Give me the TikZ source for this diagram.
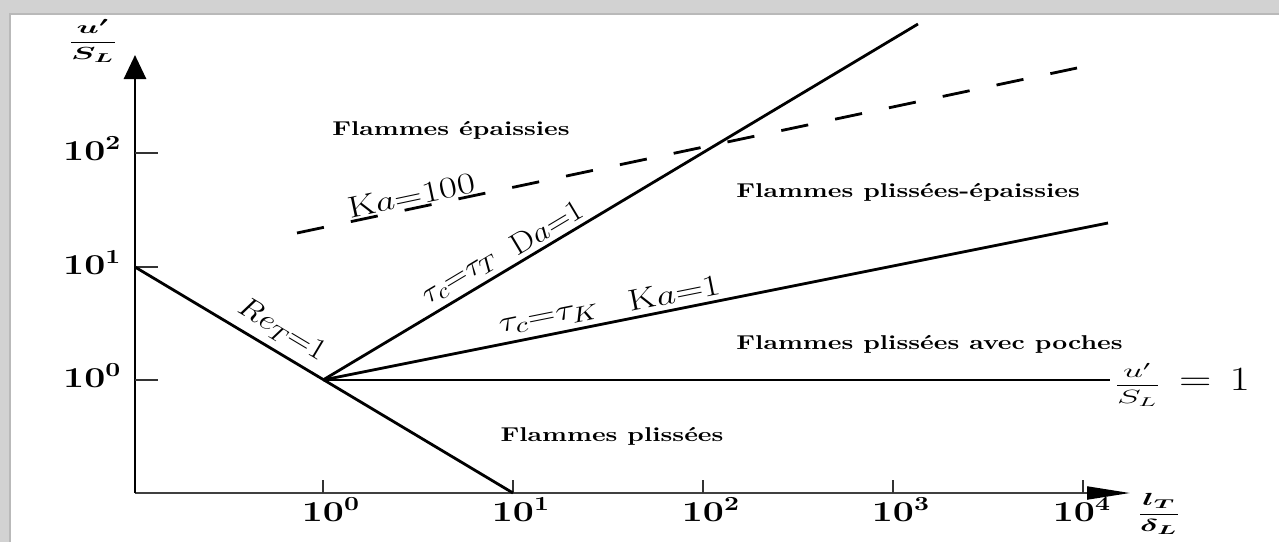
\documentclass[tikz,border=0pt]{standalone}
\usepackage{amsmath}
\usepackage{graphicx}
\usetikzlibrary{arrows.meta}
\newcommand\sx[1]{\scalebox{1.3}[1]{#1}}
\newcommand\sy[1]{\scalebox{1.12}[1]{#1}}
\newcommand\fr[1]{\scalebox{1.5}[0.8]{#1}}
\tikzset{
  mainline/.style={line width=1.4pt, black},
  dashline/.style={line width=1.4pt, black, dash pattern=on 13.75pt off 13.75pt},
  yaxis/.style={line width=1.4pt, black},
  xaxis/.style={line width=1pt, black!75},
  tickmark/.style={line width=0.9pt, black!80},
  ticklab/.style={font=\fontsize{14}{16}\selectfont\boldmath, inner sep=0pt},
  region/.style={font=\bfseries, inner sep=0pt},
  mlab/.style={font=\fontsize{15}{17}\selectfont, inner sep=2.5pt},
}
\begin{document}
\begin{tikzpicture}[x=0.5pt,y=-0.5pt]
\useasboundingbox (0,0) rectangle (1279,542);
\fill[gray!35] (0,0) rectangle (1279,542);
\fill[white] (10,14) rectangle (1279,542);
\draw[gray!55, line width=0.6pt] (10,542) -- (10,14) -- (1279,14);
% coordinates
\coordinate (O) at (135,493);
\coordinate (ytip) at (135,55);
\coordinate (xtip) at (1130,493);
\coordinate (P) at (323,380);
\coordinate (ReA) at (135,267);
\coordinate (ReB) at (513,493);
\coordinate (DaB) at (918,24);
\coordinate (KaB) at (1108,223);
\coordinate (HB) at (1110,380);
\coordinate (DA) at (297,233);
\coordinate (DB) at (1077,68);
% axes
\draw[xaxis, -{Triangle[length=21.5pt,width=6.5pt,color=black,fill=black]}] (O) -- (xtip);
\draw[yaxis, -{Triangle[length=12pt,width=11pt]}] (O) -- (ytip);
% ticks
\foreach \yy in {153,267,380} \draw[tickmark] (135,\yy) -- (158,\yy);
\foreach \xx in {323,513,703,893,1083} \draw[tickmark] (\xx,493) -- (\xx,480);
% tick labels
\node[ticklab, anchor=base east] (y2) at (122,160) {\sx{$10^{2}$}};
\node[ticklab, anchor=base east] (y1) at (122,274) {\sx{$10^{1}$}};
\node[ticklab, anchor=base east] (y0) at (122,387) {\sx{$10^{0}$}};
\node[ticklab, anchor=base] (x0) at (323,521) {\sx{$10$}\rlap{\sx{$^{0}$}}};
\node[ticklab, anchor=base] (x1) at (513,521) {\sx{$10$}\rlap{\sx{$^{1}$}}};
\node[ticklab, anchor=base] (x2) at (703,521) {\sx{$10$}\rlap{\sx{$^{2}$}}};
\node[ticklab, anchor=base] (x3) at (893,521) {\sx{$10$}\rlap{\sx{$^{3}$}}};
\node[ticklab, anchor=base] (x4) at (1074,521) {\sx{$10$}\rlap{\sx{$^{4}$}}};
% axis labels
\node[inner sep=0pt] (ylab) at (93,41) {\fr{\fontsize{11}{13}\selectfont\boldmath$\dfrac{u'}{S_L}$}};
\node[inner sep=0pt] (xlab) at (1159,514) {\fr{\fontsize{11}{13}\selectfont\boldmath$\dfrac{l_T}{\delta_L}$}};
% lines
\draw[mainline] (ReA) -- (ReB) node[pos=0.36, sloped, above, mlab, inner sep=3.5pt] (re) {\sy{$Re_T$=1}};
\draw[mainline] (P) -- (DaB)
  node[pos=0.245, sloped, above, mlab] (tt) {\sy{$\tau_c$=$\tau_T$}}
  node[pos=0.39, sloped, above, mlab] (da) {\sy{D$a$=1}};
\draw[mainline] (P) -- (KaB)
  node[pos=0.292, sloped, above, mlab] (tk) {\sx{$\tau_c$=$\tau_K$}}
  node[pos=0.452, sloped, above, mlab] (ka) {\sx{K$a$=1}};
\draw[mainline] (P) -- (HB);
\node[anchor=west, inner sep=0pt] (ul) at (1113,385) {\fr{\fontsize{12}{14}\selectfont$\dfrac{u'}{S_L}$}\hspace{9pt}\sx{\fontsize{17}{19}\selectfont$=$\hspace{7pt}1}};
\draw[dashline] (DA) -- (DB) node[pos=0.15, sloped, above, mlab, inner sep=0.5pt] (k100) {\sx{K$a$=100}};
% regions
\node[region] (r1) at (451,130) {\sx{Flammes épaissies}};
\node[region, anchor=west] (r2) at (736,192) {\sx{Flammes plissées-épaissies}};
\node[region, anchor=west] (r3) at (736,344) {\sx{Flammes plissées avec poches}};
\node[region] (r4) at (612,436) {\sx{Flammes plissées}};
\end{tikzpicture}
\end{document}
